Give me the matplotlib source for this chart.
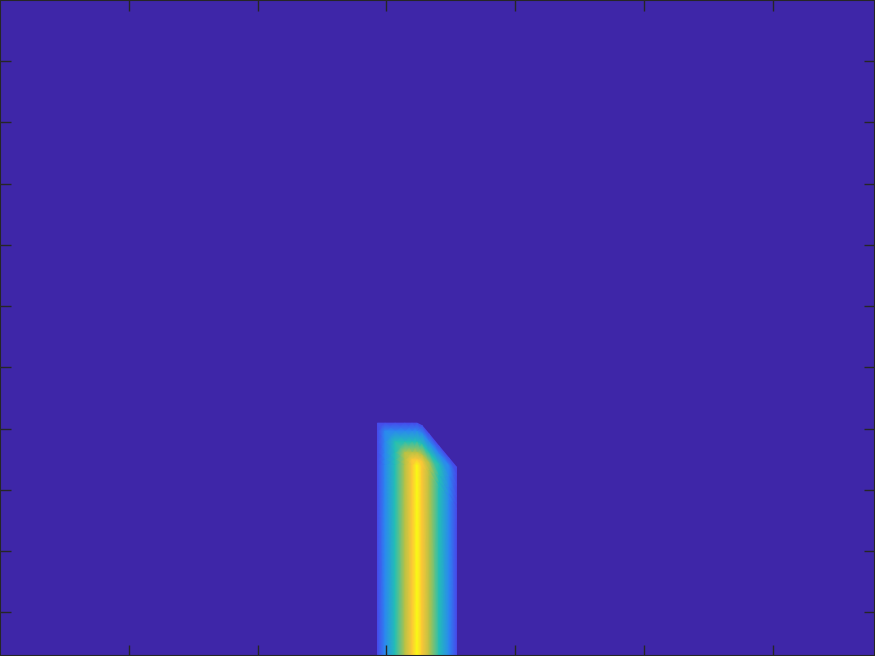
import numpy as np
import matplotlib
matplotlib.use('Agg')
import matplotlib.pyplot as plt
from matplotlib.colors import LinearSegmentedColormap

# parula-like colormap (MATLAB default)
parula_pos = [0.0, 0.1, 0.15, 0.25, 0.4, 0.5, 0.6, 0.7, 0.8, 0.875, 0.95, 1.0]
parula_rgb = [(0.2422, 0.1504, 0.6603), (0.2797, 0.2897, 0.9263),
              (0.2611, 0.3976, 0.9911), (0.1836, 0.5103, 0.9622),
              (0.0659, 0.6870, 0.8194), (0.1324, 0.7468, 0.7145),
              (0.3651, 0.7957, 0.5232), (0.6555, 0.7717, 0.2921),
              (0.9047, 0.7406, 0.2216), (0.9923, 0.7676, 0.2232),
              (0.9531, 0.9003, 0.1542), (0.9769, 0.9839, 0.0805)]
parula = LinearSegmentedColormap.from_list('parula', list(zip(parula_pos, parula_rgb)))

# band columns (x), cross profile and top edge
x_nodes = [2.931, 2.989, 3.067, 3.144, 3.199, 3.238, 3.276, 3.331, 3.408, 3.486, 3.544]
profile = [0.10, 0.27, 0.50, 0.73, 0.88, 1.00, 0.88, 0.73, 0.50, 0.27, 0.10]
y_top = [3.091, 3.091, 3.091, 3.091, 3.091, 3.091, 3.051, 2.914, 2.716, 2.520, 2.373]
# depth below the top edge where each level is reached
levels = [0.10, 0.27, 0.50, 0.73, 0.88, 1.00]
level_depth = [0.0, 0.130, 0.305, 0.481, 0.595, 0.687]
y_bottom = -0.8

xn = np.array(x_nodes)
yt = np.array(y_top)
pr = np.array(profile)
rows_y = [yt - d for d in level_depth] + [np.full_like(yt, y_bottom)]
rows_c = [np.minimum(pr, lv) for lv in levels] + [pr]
X = np.tile(xn, (len(rows_y), 1))
Y = np.array(rows_y)
C = np.array(rows_c)

fig = plt.figure(figsize=(8.75, 6.56), dpi=100)
ax = fig.add_axes([0, 0, 1, 1])
ax.set_facecolor(parula(0.0))
ax.pcolormesh(X, Y, C, shading='gouraud', cmap=parula, vmin=0, vmax=1)

ax.set_xlim(0, 875 / 128.8)
ax.set_ylim(-0.711, 10)
ax.set_xticks(range(1, 7))
ax.set_yticks(range(0, 10))
ax.set_xticklabels([])
ax.set_yticklabels([])
ax.tick_params(direction='in', length=8, width=1, color='#262626',
               top=True, right=True)
for s in ax.spines.values():
    s.set_color('#262626')
    s.set_linewidth(1.5)

fig.savefig('out.png', dpi=100)
